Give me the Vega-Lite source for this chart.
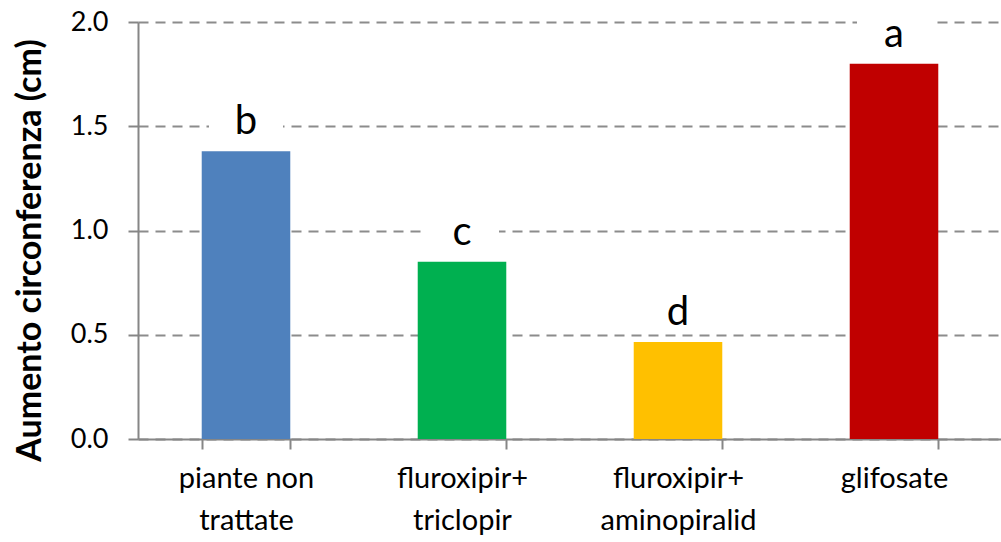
{
  "$schema": "https://vega.github.io/schema/vega-lite/v6.json",
  "width": 864,
  "height": 417,
  "autosize": {"type": "none"},
  "padding": {"left": 138, "top": 22, "right": 0, "bottom": 103},
  "background": "white",
  "config": {"view": {"stroke": null}, "font": "Lato"},
  "data": {"values": [
    {"cat": "piante non|trattate", "value": 1.38, "sig": "b", "color": "#4F81BD"},
    {"cat": "fluroxipir+|triclopir", "value": 0.85, "sig": "c", "color": "#00B050"},
    {"cat": "fluroxipir+|aminopiralid", "value": 0.465, "sig": "d", "color": "#FFC000"},
    {"cat": "glifosate", "value": 1.80, "sig": "a", "color": "#C00000"}
  ]},
  "encoding": {
    "x": {"field": "cat", "type": "nominal", "sort": null,
      "scale": {"paddingInner": 0.59, "paddingOuter": 0.295},
      "axis": {"title": null, "labelAngle": 0, "labelExpr": "split(datum.label, '|')",
        "labelFontSize": 29, "labelColor": "#000000", "labelLineHeight": 42, "labelPadding": 15,
        "labelBaseline": "top",
        "tickBand": "extent", "tickSize": 10, "tickColor": "#868686", "tickWidth": 2,
        "domainColor": "#868686", "domainWidth": 2, "grid": false}},
    "y": {"field": "value", "type": "quantitative",
      "scale": {"domain": [0, 2], "nice": false},
      "axis": {"title": "Aumento circonferenza (cm)", "values": [0, 0.5, 1, 1.5, 2], "format": ".1f",
        "labelFontSize": 27, "labelColor": "#000000", "labelPadding": 20,
        "tickSize": 10, "tickColor": "#868686", "tickWidth": 2,
        "domainColor": "#868686", "domainWidth": 2,
        "grid": true, "gridColor": "#8c8c8c", "gridWidth": 2, "gridDash": [10, 7],
        "titleFontSize": 34, "titleFontWeight": "bold", "titleColor": "#000000",
        "titleAngle": -90, "titleX": -108, "titleY": 228, "titleAlign": "center", "titleBaseline": "middle"}}
  },
  "layer": [
    {"mark": {"type": "bar"}, "encoding": {"color": {"field": "color", "type": "nominal", "scale": null}}},
    {"mark": {"type": "point", "shape": "M-1,-0.54H1V0.54H-1Z", "filled": true, "fill": "white", "stroke": null, "opacity": 1, "size": 5476, "yOffset": -30}},
    {"mark": {"type": "text", "fontSize": 40, "baseline": "alphabetic", "yOffset": -17, "color": "#000000"},
      "encoding": {"text": {"field": "sig"}}}
  ]
}
